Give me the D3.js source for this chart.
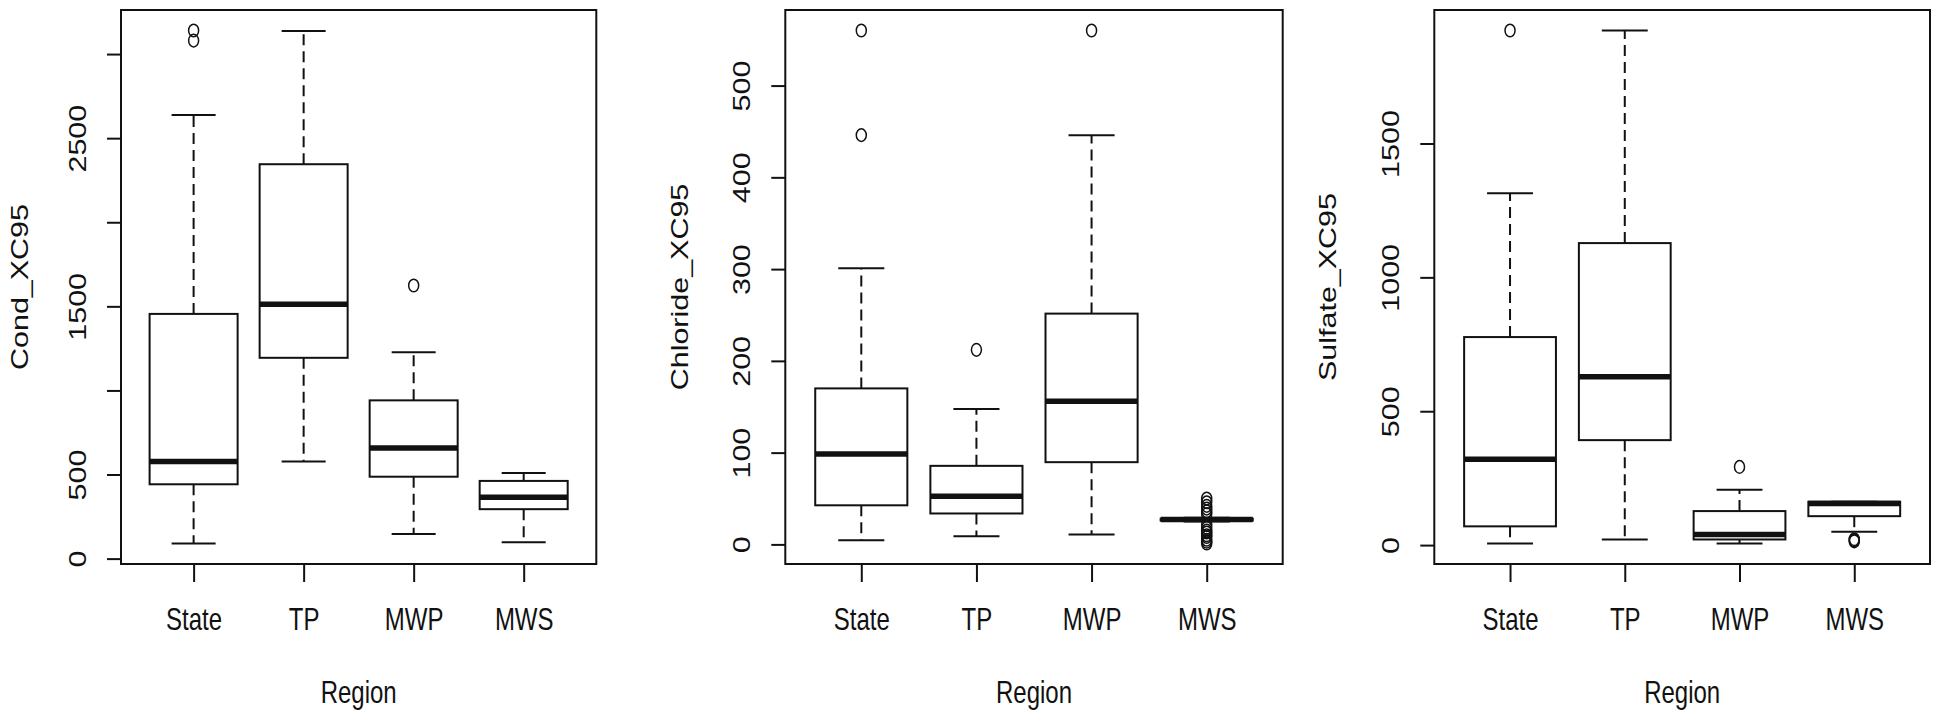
<!DOCTYPE html>
<html>
<head>
<meta charset="utf-8">
<script src="https://cdn.jsdelivr.net/npm/d3@7"></script>
<style>
  body { margin: 0; background: #fff; }
  svg { display: block; font-family: "Liberation Sans", Arial, sans-serif; }
</style>
</head>
<body>
<div class="chart"></div>
<script>
// categories shared by the three panels
const regions = ["State", "TP", "MWP", "MWS"];

// box stats per region: [lower whisker, Q1, median, Q3, upper whisker]
const condStats = [[90, 442, 577, 1455, 2638], [577, 1194, 1512, 2345, 3137], [147, 487, 658, 941, 1227], [98, 294, 365, 462, 509]];
const condOutliers = [[3080, 3140], [], [1624], []];

const chlorideStats = [[4.5, 42.6, 98.5, 170, 301], [8.9, 33.7, 52.5, 85.6, 147.5], [10.9, 89.6, 156, 251.5, 446], [25, 26, 27, 28, 29]];
const chlorideOutliers = [[446, 560], [212], [560], [1, 3, 5, 8, 10, 13, 15, 18, 21, 33, 36, 39, 42, 46, 50]];

const sulfateStats = [[6, 70, 321, 777, 1314], [21, 392, 629, 1128, 1922], [6, 21, 40, 127, 207], [50, 108, 155, 162, 162]];
const sulfateOutliers = [[1922], [], [292], [14, 18, 22]];

// axis ticks (R drops labels that would overlap)
const condTicks = [0, 500, 1000, 1500, 2000, 2500, 3000];
const condTickLabels = ["0", "500", "", "1500", "", "2500", ""];
const chlorideTicks = [0, 100, 200, 300, 400, 500];
const chlorideTickLabels = ["0", "100", "200", "300", "400", "500"];
const sulfateTicks = [0, 500, 1000, 1500];
const sulfateTickLabels = ["0", "500", "1000", "1500"];

const panels = [
  { ylab: "Cond_XC95", stats: condStats, outliers: condOutliers, ticks: condTicks, labels: condTickLabels, left: 121, right: 596.3, ylabOff: 93 },
  { ylab: "Chloride_XC95", stats: chlorideStats, outliers: chlorideOutliers, ticks: chlorideTicks, labels: chlorideTickLabels, left: 785.3, right: 1282.7, ylabOff: 97 },
  { ylab: "Sulfate_XC95", stats: sulfateStats, outliers: sulfateOutliers, ticks: sulfateTicks, labels: sulfateTickLabels, left: 1434.3, right: 1930, ylabOff: 98 }
];

const W = 1933, H = 716;
const plotTop = 10, plotBottom = 564;
const sy = 1.27; // the picture is stretched vertically
const ink = "#111";

const svg = d3.select(".chart").append("svg")
  .attr("width", W)
  .attr("height", H);

panels.forEach(p => {
  const g = svg.append("g");

  // R style: x range 0.5..n+0.5 plus 4%
  const x = d3.scaleLinear()
    .domain([0.5 - 0.16, regions.length + 0.5 + 0.16])
    .range([p.left, p.right]);

  const allVals = p.stats.flat().concat(p.outliers.flat());
  const lo = d3.min(allVals), hi = d3.max(allVals);
  const pad = (hi - lo) * 0.04;
  const y = d3.scaleLinear()
    .domain([lo - pad, hi + pad])
    .range([plotBottom, plotTop]);

  const unit = x(2) - x(1);
  const boxW = unit * 0.8;
  const capW = unit * 0.4;

  const boxes = g.selectAll(".box")
    .data(p.stats.map((s, i) => ({ s, i, cx: x(i + 1) })))
    .join("g")
      .attr("class", "box");

  // whiskers (dashed)
  boxes.append("line")
    .attr("x1", d => d.cx).attr("x2", d => d.cx)
    .attr("y1", d => y(d.s[3])).attr("y2", d => y(d.s[4]))
    .attr("stroke", ink).attr("stroke-width", 2).attr("stroke-dasharray", "11,6");
  boxes.append("line")
    .attr("x1", d => d.cx).attr("x2", d => d.cx)
    .attr("y1", d => y(d.s[1])).attr("y2", d => y(d.s[0]))
    .attr("stroke", ink).attr("stroke-width", 2).attr("stroke-dasharray", "11,6");

  // staples
  [0, 4].forEach(k => {
    boxes.append("line")
      .attr("x1", d => d.cx - capW / 2).attr("x2", d => d.cx + capW / 2)
      .attr("y1", d => y(d.s[k])).attr("y2", d => y(d.s[k]))
      .attr("stroke", ink).attr("stroke-width", 2);
  });

  // box
  boxes.append("rect")
    .attr("x", d => d.cx - boxW / 2)
    .attr("width", boxW)
    .attr("y", d => y(d.s[3]))
    .attr("height", d => y(d.s[1]) - y(d.s[3]))
    .attr("fill", "#fff")
    .attr("stroke", ink).attr("stroke-width", 2);

  // median
  boxes.append("line")
    .attr("x1", d => d.cx - boxW / 2).attr("x2", d => d.cx + boxW / 2)
    .attr("y1", d => y(d.s[2])).attr("y2", d => y(d.s[2]))
    .attr("stroke", ink).attr("stroke-width", 5.5);

  // outliers
  const pts = p.outliers.flatMap((arr, i) => arr.map(v => ({ v, cx: x(i + 1) })));
  g.selectAll(".out")
    .data(pts)
    .join("ellipse")
      .attr("class", "out")
      .attr("cx", d => d.cx)
      .attr("cy", d => y(d.v))
      .attr("rx", 5).attr("ry", 6.3)
      .attr("fill", "none")
      .attr("stroke", ink).attr("stroke-width", 1.5);

  // frame
  g.append("rect")
    .attr("x", p.left).attr("y", plotTop)
    .attr("width", p.right - p.left).attr("height", plotBottom - plotTop)
    .attr("fill", "none").attr("stroke", ink).attr("stroke-width", 2);

  // y axis
  const yAxis = g.append("g")
    .attr("transform", `translate(${p.left},0)`)
    .call(d3.axisLeft(y).tickValues(p.ticks).tickSize(14)
      .tickFormat((d, i) => p.labels[i]));
  yAxis.select(".domain").remove();
  yAxis.selectAll(".tick line").attr("stroke", ink).attr("stroke-width", 2);
  yAxis.selectAll(".tick text")
    .attr("x", null).attr("dy", null)
    .attr("transform", `translate(-35,0) scale(1,${sy}) rotate(-90)`)
    .attr("text-anchor", "middle")
    .attr("font-size", 24)
    .attr("font-family", "Liberation Sans, Arial, sans-serif")
    .attr("fill", ink);

  // x axis
  const xAxis = g.append("g")
    .attr("transform", `translate(0,${plotBottom})`)
    .call(d3.axisBottom(x).tickValues(regions.map((r, i) => i + 1)).tickSize(18)
      .tickFormat((d, i) => regions[i]));
  xAxis.select(".domain").remove();
  xAxis.selectAll(".tick line").attr("stroke", ink).attr("stroke-width", 2);
  xAxis.selectAll(".tick text")
    .attr("y", null).attr("dy", null)
    .attr("transform", `translate(0,66) scale(1,${sy})`)
    .attr("text-anchor", "middle")
    .attr("font-size", 24)
    .attr("font-family", "Liberation Sans, Arial, sans-serif")
    .attr("fill", ink);

  // axis titles
  g.append("text")
    .attr("transform", `translate(${(p.left + p.right) / 2},703) scale(1,${sy})`)
    .attr("text-anchor", "middle")
    .attr("font-size", 24)
    .attr("fill", ink)
    .text("Region");
  g.append("text")
    .attr("transform", `translate(${p.left - p.ylabOff},${(plotTop + plotBottom) / 2}) scale(1,${sy}) rotate(-90)`)
    .attr("text-anchor", "middle")
    .attr("font-size", 24)
    .attr("fill", ink)
    .text(p.ylab);
});
</script>
</body>
</html>
